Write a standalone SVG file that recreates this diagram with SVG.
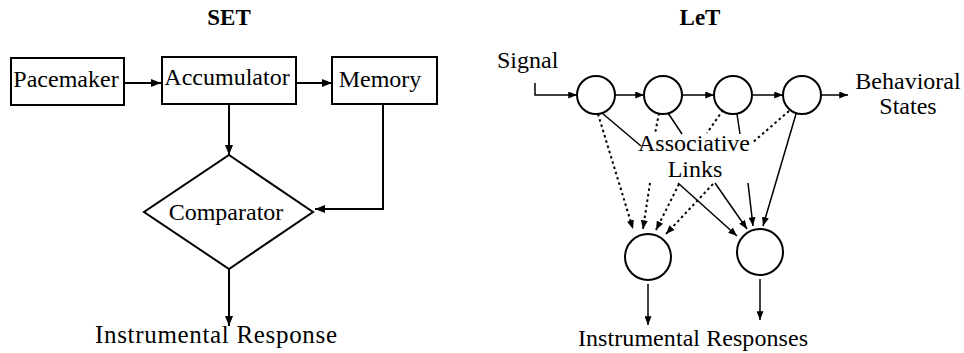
<svg xmlns="http://www.w3.org/2000/svg" width="964" height="353" viewBox="0 0 964 353">
  <style>
    text { font-family: "Liberation Serif", "Times New Roman", serif; fill: #000; }
    .lbl { font-size: 24px; }
    .title { font-size: 23px; font-weight: bold; }
    .box { fill: #fff; stroke: #000; stroke-width: 2; }
    .unit { fill: #fff; stroke: #000; stroke-width: 2; }
    .wire { fill: none; stroke: #000; stroke-width: 2; }
    .link { fill: none; stroke: #000; stroke-width: 1.5; }
    .dot { fill: none; stroke: #000; stroke-width: 2; stroke-dasharray: 2.5 3; }
  </style>
  <defs>
    <marker id="ah" viewBox="0 0 10 8" refX="10" refY="4" markerWidth="10" markerHeight="8" markerUnits="userSpaceOnUse" orient="auto">
      <path d="M0,0 L10,4 L0,8 z" fill="#000"/>
    </marker>
    <marker id="ahs" viewBox="0 0 10 8" refX="10" refY="4" markerWidth="9" markerHeight="7" markerUnits="userSpaceOnUse" orient="auto">
      <path d="M0,0 L10,4 L0,8 z" fill="#000"/>
    </marker>
  </defs>

  <!-- ===== SET: scalar expectancy model ===== -->
  <text class="title" x="229" y="25" text-anchor="middle">SET</text>

  <g id="pacemaker">
    <rect class="box" x="11" y="58" width="113" height="47"/>
    <text class="lbl" x="66" y="87" text-anchor="middle">Pacemaker</text>
  </g>
  <g id="accumulator">
    <rect class="box" x="162" y="57" width="134" height="47"/>
    <text class="lbl" x="227" y="85" text-anchor="middle">Accumulator</text>
  </g>
  <g id="memory">
    <rect class="box" x="332" y="57" width="105" height="47"/>
    <text class="lbl" x="380" y="87" text-anchor="middle">Memory</text>
  </g>
  <g id="comparator">
    <polygon class="box" points="229,155 313,212 229,269 144,212"/>
    <text class="lbl" x="226" y="220" text-anchor="middle">Comparator</text>
  </g>
  <g id="set-response">
    <text x="95" y="343" font-size="25" textLength="242" lengthAdjust="spacing">Instrumental Response</text>
  </g>

  <g id="set-connectors">
    <line class="wire" x1="124" y1="83" x2="161" y2="83" marker-end="url(#ah)"/>
    <line class="wire" x1="296" y1="83" x2="332" y2="83" marker-end="url(#ah)"/>
    <line class="wire" x1="229" y1="104" x2="229" y2="155" marker-end="url(#ah)"/>
    <path class="wire" d="M383,104 V209 H315" marker-end="url(#ah)"/>
    <line class="wire" x1="229" y1="269" x2="229" y2="326" marker-end="url(#ah)"/>
  </g>

  <!-- ===== LeT: learning-to-time model ===== -->
  <text class="title" x="700" y="25" text-anchor="middle">LeT</text>

  <g id="signal">
    <text class="lbl" x="497" y="68">Signal</text>
  </g>
  <g id="state1"><circle class="unit" cx="596" cy="95" r="19"/></g>
  <g id="state2"><circle class="unit" cx="663" cy="95" r="19"/></g>
  <g id="state3"><circle class="unit" cx="733" cy="95" r="19"/></g>
  <g id="state4"><circle class="unit" cx="802" cy="95" r="19"/></g>
  <g id="behavioral-states">
    <text class="lbl" x="908" y="89" text-anchor="middle">Behavioral</text>
    <text class="lbl" x="908" y="114" text-anchor="middle">States</text>
  </g>
  <g id="associative-links">
    <text class="lbl" x="694" y="151" text-anchor="middle">Associative</text>
    <text class="lbl" x="695" y="177" text-anchor="middle">Links</text>
  </g>
  <g id="response1"><circle class="unit" cx="648" cy="257" r="23"/></g>
  <g id="response2"><circle class="unit" cx="760" cy="252" r="23"/></g>
  <g id="let-responses">
    <text class="lbl" x="578" y="346" textLength="230" lengthAdjust="spacing">Instrumental Responses</text>
  </g>

  <g id="let-connectors">
    <!-- signal input and state chain -->
    <path class="link" d="M535,83 V95 H577" marker-end="url(#ahs)"/>
    <line class="link" x1="615" y1="95" x2="644" y2="95" marker-end="url(#ahs)"/>
    <line class="link" x1="682" y1="95" x2="714" y2="95" marker-end="url(#ahs)"/>
    <line class="link" x1="752" y1="95" x2="783" y2="95" marker-end="url(#ahs)"/>
    <line class="link" x1="821" y1="95" x2="848" y2="95" marker-end="url(#ahs)"/>

    <!-- leaders from the states to the label -->
    <line class="link" x1="602" y1="113" x2="641" y2="146"/>
    <line class="dot" x1="659" y1="113" x2="655" y2="134"/>
    <line class="link" x1="668" y1="113" x2="682" y2="134"/>
    <line class="dot" x1="723" y1="110" x2="707" y2="133"/>
    <line class="link" x1="737" y1="114" x2="740" y2="134"/>
    <line class="dot" x1="789" y1="111" x2="752" y2="143"/>

    <!-- dotted links into the first response unit -->
    <line class="dot" x1="598" y1="114" x2="633" y2="229" marker-end="url(#ahs)"/>
    <line class="dot" x1="650" y1="183" x2="643" y2="229" marker-end="url(#ahs)"/>
    <line class="dot" x1="679" y1="184" x2="656" y2="230" marker-end="url(#ahs)"/>
    <line class="dot" x1="713" y1="184" x2="666" y2="234" marker-end="url(#ahs)"/>

    <!-- solid links into the second response unit -->
    <line class="link" x1="678" y1="183" x2="737" y2="236" marker-end="url(#ahs)"/>
    <line class="link" x1="715" y1="183" x2="747" y2="229" marker-end="url(#ahs)"/>
    <line class="link" x1="748" y1="183" x2="753" y2="226" marker-end="url(#ahs)"/>
    <line class="link" x1="796" y1="114" x2="763" y2="226" marker-end="url(#ahs)"/>

    <!-- response outputs -->
    <line class="link" x1="648" y1="284" x2="648" y2="325" marker-end="url(#ahs)"/>
    <line class="link" x1="760" y1="279" x2="760" y2="320" marker-end="url(#ahs)"/>
  </g>
</svg>
